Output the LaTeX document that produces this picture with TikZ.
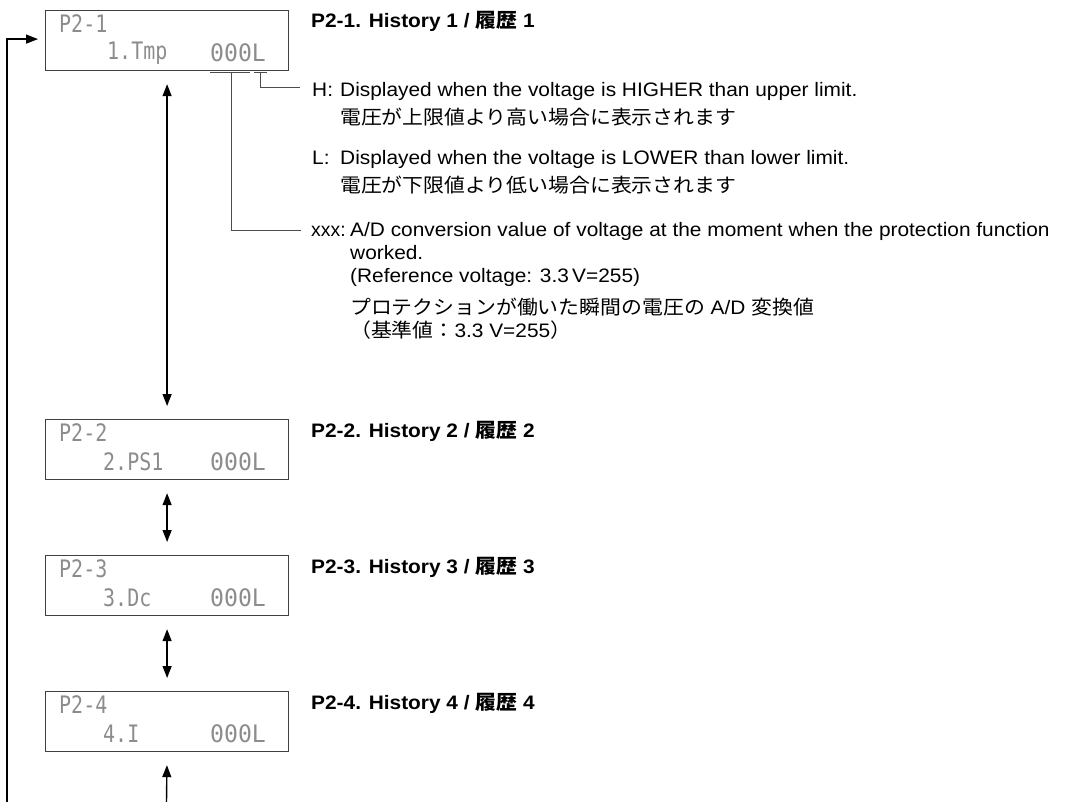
\documentclass[tikz,border=0pt]{standalone}
\usepackage{fontspec}
\setmainfont{Liberation Sans}[FakeStretch=1.07]
\newfontfamily\jp{Noto Sans CJK JP}[FakeStretch=1.07]
\newfontfamily\jpb{Noto Sans CJK JP Bold}[FakeStretch=1.07]
\newfontfamily\lcdfont{DejaVu Sans Mono}
\usetikzlibrary{arrows.meta}
\newcommand{\lcdt}[1]{\scalebox{1.08}[1.3]{\lcdfont #1}}
\newcommand{\lcdw}[1]{\scalebox{1.25}[1.3]{\lcdfont #1}}
\begin{document}
\begin{tikzpicture}[x=1pt,y=-1pt,
  lcdbox/.style={draw=black!75, line width=1.2pt, minimum width=243pt, minimum height=60pt, inner sep=0pt, anchor=north west},
  lcdtxt/.style={text=black!45, font=\fontsize{18.5}{19}\selectfont, inner sep=0pt, anchor=west},
  title/.style={font=\bfseries\fontsize{19.5}{22}\selectfont, anchor=base west, inner sep=0pt},
  desc/.style={font=\fontsize{19.5}{23}\selectfont, anchor=base west, inner sep=0pt},
  nav/.style={line width=1.4pt, {Triangle[width=9pt,length=12pt]}-{Triangle[width=9pt,length=12pt]}, shorten <=13pt, shorten >=13pt},
  navup/.style={line width=1.4pt, -{Triangle[width=9pt,length=12pt]}, shorten >=13pt},
  loopline/.style={line width=1.4pt, -{Triangle[width=9pt,length=12pt]}, shorten >=7pt},
  lead/.style={draw=black!70, line width=0.9pt}]
\useasboundingbox (0,0) rectangle (1068,802);

% LCD boxes
\node[lcdbox] (b1) at (45,10) {};
\node[lcdbox] (b2) at (45,419) {};
\node[lcdbox] (b3) at (45,555) {};
\node[lcdbox] (b4) at (45,691) {};

\node[lcdtxt] (b1a) at (59,24) {\lcdt{P2-1}};
\node[lcdtxt] (b1b) at (107,53) {\lcdt{1.Tmp}};
\node[lcdtxt] (b1c) at (210,53) {\lcdw{000L}};
\node[lcdtxt] (b2a) at (59,433) {\lcdt{P2-2}};
\node[lcdtxt] (b2b) at (103,462) {\lcdt{2.PS1}};
\node[lcdtxt] (b2c) at (210,462) {\lcdw{000L}};
\node[lcdtxt] (b3a) at (59,569) {\lcdt{P2-3}};
\node[lcdtxt] (b3b) at (103,598) {\lcdt{3.Dc}};
\node[lcdtxt] (b3c) at (210,598) {\lcdw{000L}};
\node[lcdtxt] (b4a) at (59,705) {\lcdt{P2-4}};
\node[lcdtxt] (b4b) at (103,734) {\lcdt{4.I}};
\node[lcdtxt] (b4c) at (210,734) {\lcdw{000L}};

% titles
\node[title] (t1) at (311,28) {P2-1. History 1 / {\jpb 履歴} 1};
\node[title] (t2) at (311,437) {P2-2. History 2 / {\jpb 履歴} 2};
\node[title] (t3) at (311,573) {P2-3. History 3 / {\jpb 履歴} 3};
\node[title] (t4) at (311,709) {P2-4. History 4 / {\jpb 履歴} 4};

% descriptions
\node[desc] (hk) at (312,97) {H:};
\node[desc] (ht) at (340,97) {Displayed when the voltage is HIGHER than upper limit.};
\node[desc] (hj) at (340,125) {\jp 電圧が上限値より高い場合に表示されます};
\node[desc] (lk) at (312,165) {L:};
\node[desc] (lt) at (340,165) {Displayed when the voltage is LOWER than lower limit.};
\node[desc] (lj) at (340,193) {\jp 電圧が下限値より低い場合に表示されます};
\node[desc] (xk) at (311,237) {\scalebox{0.93}[1]{xxx:}};
\node[desc] (xt1) at (350,237) {A/D conversion value of voltage at the moment when the protection function};
\node[desc] (xt2) at (350,260) {worked.};
\node[desc] (xt3) at (350,283) {(Reference voltage: 3.3\,V=255)};
\node[desc] (xj1) at (350,314) {{\jp プロテクションが働いた瞬間の電圧の} A/D {\jp 変換値}};
\node[desc] (xj2) at (350,337) {{\jp （基準値：}3.3 V=255{\jp ）}};

% leader lines
\coordinate (u0a) at (210,72);
\coordinate (u0b) at (250,72);
\coordinate (uLa) at (254,72);
\coordinate (uLb) at (267,72);
\coordinate (u0m) at (231,72);
\coordinate (uLm) at (260,72);
\draw[lead] (u0a) -- (u0b);
\draw[lead] (uLa) -- (uLb);
\draw[lead] (uLm) |- ([xshift=-12pt,yshift=10pt]hk.base west);
\draw[lead] (u0m) |- ([xshift=-10pt,yshift=7pt]xk.base west);

% navigation arrows
\draw[nav] (b1.south) -- (b2.north);
\draw[nav] (b2.south) -- (b3.north);
\draw[nav] (b3.south) -- (b4.north);
\coordinate (bend) at (166.5,802);
\draw[navup] (bend) -- (b4.south);
\coordinate (loopst) at (7,802);
\draw[loopline] (loopst) |- ([yshift=1.5pt]b1.west);
\end{tikzpicture}
\end{document}
